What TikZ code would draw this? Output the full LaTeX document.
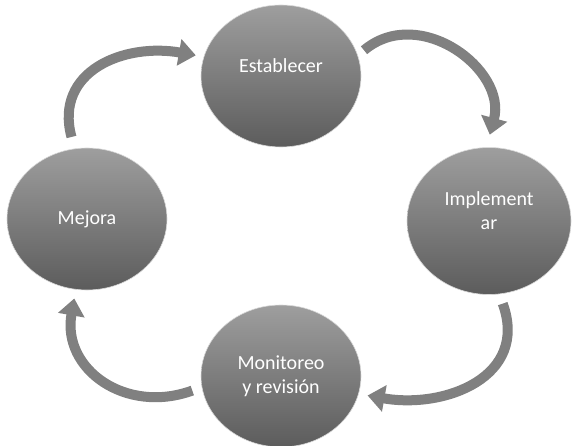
\documentclass[tikz,border=0pt]{standalone}
\usepackage{fontspec}
\setmainfont{Carlito}
\usepackage{tikz}
\usetikzlibrary{shapes.geometric}
\usetikzlibrary{arrows.meta}
\definecolor{etapaclaro}{HTML}{9E9E9E}
\definecolor{etapaoscuro}{HTML}{5C5C5C}
\definecolor{flechagris}{HTML}{808080}
\tikzset{
	etapa/.style = {ellipse, align=center, inner sep=0pt, text=white,
		font=\fontsize{20}{24}\selectfont, minimum width=160pt,
		minimum height=142pt, top color=etapaclaro, bottom color=etapaoscuro,
		draw=gray!30, line width=0.6pt},% etapa del ciclo
	etapa_alta/.style = {etapa, text depth=20pt},% etapa con texto alto
	flecha/.style = {draw=flechagris, line width=10pt, looseness=1.3,
		-{Triangle[length=17pt,width=26pt]}}% flecha curva
}

\begin{document}
\begin{tikzpicture}[x=1pt,y=-1pt]
		\useasboundingbox (0,0) rectangle (572,446);
		\node [etapa_alta] (est) at (281,76) {Establecer};
		\node [etapa_alta, minimum width=164pt, minimum height=147pt] (imp) at (489,221) {Implement\\ar};
		\node [etapa] (mon) at (281,376) {Monitoreo\\y revisión};
		\node [etapa] (mej) at (87,219) {Mejora};
		
		\draw [flecha, shorten <=8pt, shorten >=13pt] (est.15) to[out=40,in=75] (imp.92);
		\draw [flecha, shorten <=10pt, shorten >=9pt] (imp.-82) to[out=-70,in=-10] (mon.-13);
		\draw [flecha, shorten <=10pt, shorten >=9pt] (mon.188) to[out=200,in=-100] (mej.-99);
		\draw [flecha, shorten <=12pt, shorten >=8pt] (mej.100) to[out=105,in=170] (est.166);
		
\end{tikzpicture}
\end{document}
